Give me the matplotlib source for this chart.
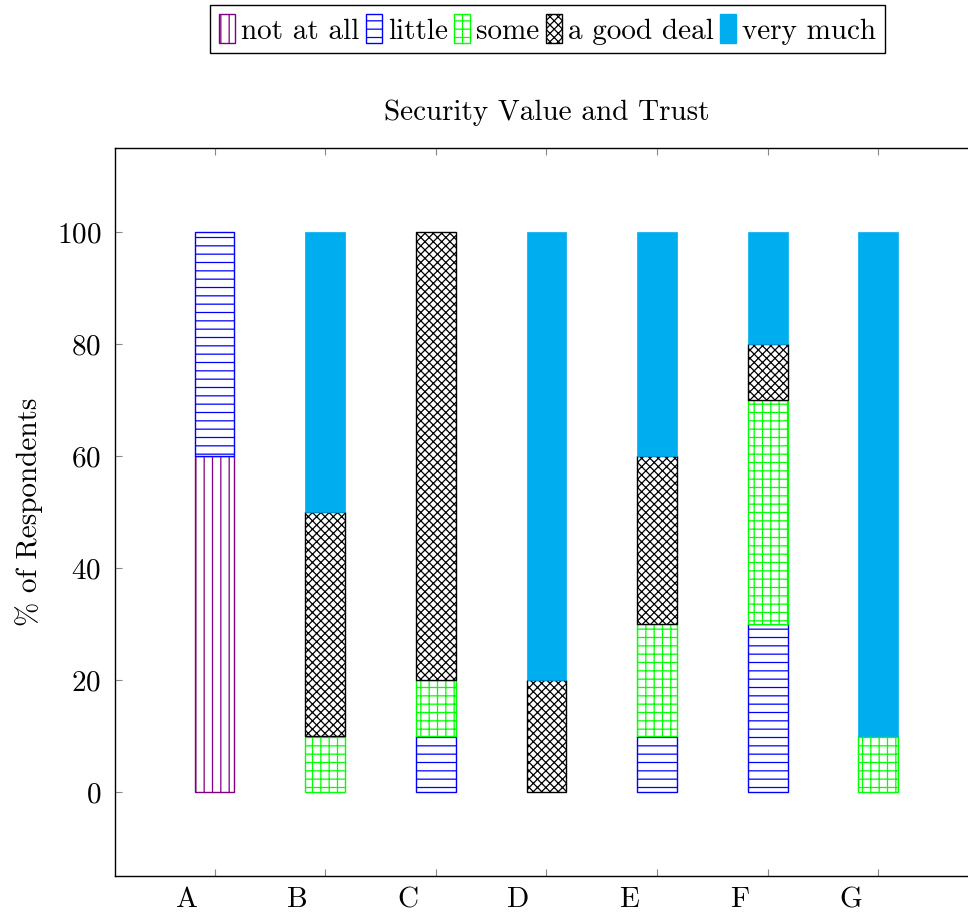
import matplotlib
matplotlib.use('Agg')
import matplotlib.pyplot as plt
import matplotlib.transforms as mtransforms
from matplotlib.patches import Patch
import numpy as np

plt.rcParams['font.family'] = ['cmr10', 'DejaVu Serif']
plt.rcParams['axes.formatter.use_mathtext'] = True
plt.rcParams['hatch.linewidth'] = 0.9

categories = ['A', 'B', 'C', 'D', 'E', 'F', 'G']
not_at_all = [60, 0, 0, 0, 0, 0, 0]
little = [40, 0, 10, 0, 10, 30, 0]
some = [0, 10, 10, 0, 20, 40, 10]
good_deal = [0, 40, 80, 20, 30, 10, 0]
very_much = [0, 50, 0, 80, 40, 20, 90]

series = [
    ('not at all', not_at_all, '#800080', '||'),
    ('little', little, '#0000ff', '--'),
    ('some', some, '#00ff00', '++'),
    ('a good deal', good_deal, 'black', 'xxxx'),
    ('very much', very_much, '#00aeef', None),
]

fig = plt.figure(figsize=(9.68, 9.13), dpi=100)
ax = fig.add_axes([0.1188, 0.0405, 0.8915, 0.7974])

x = np.arange(len(categories))
bottom = np.zeros(len(categories))
handles = []
for name, vals, color, hatch in series:
    vals = np.array(vals, dtype=float)
    mask = vals > 0
    if hatch:
        ax.bar(x[mask], vals[mask], 0.36, bottom=bottom[mask], color='white',
               edgecolor=color, hatch=hatch, linewidth=1.0)
        handles.append(Patch(facecolor='white', edgecolor=color, hatch=hatch, label=name))
    else:
        ax.bar(x[mask], vals[mask], 0.36, bottom=bottom[mask], color=color,
               edgecolor=color, linewidth=0.5)
        handles.append(Patch(facecolor=color, edgecolor=color, label=name))
    bottom += vals

fs = 21
ax.set_xlim(-0.9, 6.9)
ax.set_ylim(-15, 115)
ax.set_yticks([0, 20, 40, 60, 80, 100])
ax.set_xticks(x)
ax.set_xticklabels(categories)
ax.tick_params(direction='in', length=5, color='#888888', labelsize=fs,
               top=True, right=True, width=0.8)
ax.tick_params(axis='x', pad=8)
ax.tick_params(axis='y', pad=10)
# labels sit a bit left of the tick marks
offset = mtransforms.ScaledTranslation(-28 / 100, 0, fig.dpi_scale_trans)
for lbl in ax.get_xticklabels():
    lbl.set_transform(lbl.get_transform() + offset)
for s in ax.spines.values():
    s.set_linewidth(1.0)

ax.set_title('Security Value and Trust', fontsize=fs, pad=20)
ax.set_ylabel('% of Respondents', fontsize=fs, labelpad=10)

fig.legend(handles=handles, loc='upper center', bbox_to_anchor=(0.5656, 0.994),
           ncol=5, fontsize=fs, frameon=True, fancybox=False, edgecolor='black',
           framealpha=1, handlelength=0.55, handleheight=1.15, handletextpad=0.2,
           columnspacing=0.22, borderpad=0.3, borderaxespad=0)

fig.savefig('out.png', dpi=100)
